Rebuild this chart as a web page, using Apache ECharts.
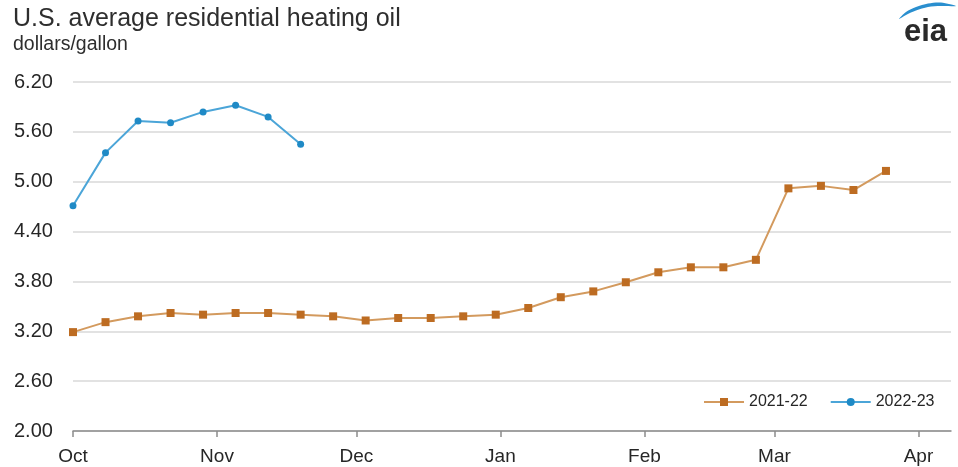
<!DOCTYPE html>
<html>
<head>
<meta charset="utf-8">
<style>
  html, body { margin: 0; padding: 0; background: #ffffff; }
  #chart { width: 958px; height: 467px; }
</style>
<script src="https://cdn.jsdelivr.net/npm/echarts@6/dist/echarts.min.js"></script>
</head>
<body>
<div id="chart"></div>
<script>
// Weekly residential heating oil prices, plotted by days since October 1 of each season
const monthStartDays = [0, 31, 61, 92, 123, 151, 182];
const monthLabels = ['Oct', 'Nov', 'Dec', 'Jan', 'Feb', 'Mar', 'Apr'];

const seasonDays2122 = [0, 7, 14, 21, 28, 35, 42, 49, 56, 63, 70, 77, 84,
  91, 98, 105, 112, 119, 126, 133, 140, 147, 154, 161, 168, 175];
const prices2122 = [3.19, 3.31, 3.38, 3.42, 3.40, 3.42, 3.42, 3.40, 3.38, 3.33, 3.36, 3.36, 3.38,
  3.40, 3.48, 3.61, 3.68, 3.79, 3.91, 3.97, 3.97, 4.06, 4.92, 4.95, 4.90, 5.13];

const seasonDays2223 = [0, 7, 14, 21, 28, 35, 42, 49];
const prices2223 = [4.71, 5.35, 5.73, 5.71, 5.84, 5.92, 5.78, 5.45];

const yTicks = { min: 2.0, max: 6.2, step: 0.6 };

const seriesNames = ['2021-22', '2022-23'];
const FONT = '"Liberation Sans", Arial, sans-serif';

function pairs(xs, ys) {
  return xs.map((x, i) => [x, ys[i]]);
}

const chart = echarts.init(document.getElementById('chart'), null, { renderer: 'canvas' });

chart.setOption({
  animation: false,
  backgroundColor: '#ffffff',
  textStyle: { fontFamily: FONT },
  grid: { left: 73, right: 7, top: 82, bottom: 36, containLabel: false },
  xAxis: {
    type: 'value',
    min: 0,
    max: 189,
    axisLine: { show: true, lineStyle: { color: '#8c8c8c', width: 1.5 } },
    axisTick: {
      show: true,
      customValues: monthStartDays,
      length: 6,
      lineStyle: { color: '#8c8c8c', width: 1.5 }
    },
    axisLabel: {
      customValues: monthStartDays,
      formatter: function (v) {
        const i = monthStartDays.indexOf(Math.round(v));
        return i >= 0 ? monthLabels[i] : '';
      },
      fontSize: 19,
      color: '#262626',
      margin: 16,
      fontFamily: FONT
    },
    splitLine: { show: false }
  },
  yAxis: {
    type: 'value',
    min: yTicks.min,
    max: yTicks.max,
    interval: yTicks.step,
    axisLine: { show: false },
    axisTick: { show: false },
    axisLabel: {
      formatter: function (v) { return v.toFixed(2); },
      align: 'left',
      margin: 59,
      fontSize: 20,
      color: '#262626',
      fontFamily: FONT
    },
    splitLine: { show: true, lineStyle: { color: '#d9d9d9', width: 1.5 } }
  },
  legend: {
    data: seriesNames,
    left: 703,
    top: 394,
    padding: 0,
    itemWidth: 40,
    itemHeight: 10,
    itemGap: 22,
    textStyle: { fontSize: 16, color: '#262626', fontFamily: FONT }
  },
  series: [
    {
      name: seriesNames[0],
      type: 'line',
      data: pairs(seasonDays2122, prices2122),
      symbol: 'rect',
      symbolSize: 8,
      showAllSymbol: true,
      itemStyle: { color: '#bd6c22' },
      lineStyle: { color: '#d39a5e', width: 2 },
      z: 3
    },
    {
      name: seriesNames[1],
      type: 'line',
      data: pairs(seasonDays2223, prices2223),
      symbol: 'circle',
      symbolSize: 7,
      showAllSymbol: true,
      itemStyle: { color: '#1f8ac6' },
      lineStyle: { color: '#4ba5d8', width: 2 },
      z: 4
    }
  ],
  graphic: [
    {
      type: 'text',
      left: 13,
      top: 7,
      style: {
        text: 'U.S. average residential heating oil',
        fontSize: 25,
        fontFamily: FONT,
        fill: '#2e2e2e'
      }
    },
    {
      type: 'text',
      left: 13,
      top: 35,
      style: {
        text: 'dollars/gallon',
        fontSize: 19.5,
        fontFamily: FONT,
        fill: '#2e2e2e'
      }
    },
    {
      type: 'polygon',
      shape: {
        points: [[899, 19], [906, 12], [916, 7], [928, 3.5], [941, 2.5], [956, 6],
                 [941, 6], [928, 7], [916, 10.5], [906, 15]],
        smooth: 0.3
      },
      style: { fill: '#2a8fcf' }
    },
    {
      type: 'text',
      left: 904,
      top: 17,
      style: {
        text: 'eia',
        fontSize: 31,
        fontWeight: 'bold',
        fontFamily: FONT,
        fill: '#2a2a2a'
      }
    }
  ]
});
</script>
</body>
</html>
